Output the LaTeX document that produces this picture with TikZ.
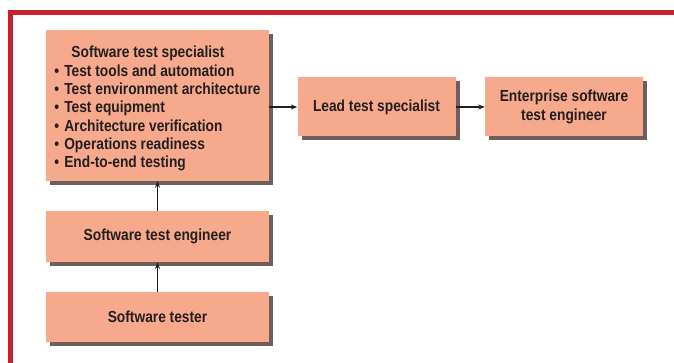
\documentclass[tikz,border=0pt]{standalone}
\usepackage{fontspec}
\setmainfont{Liberation Sans}[FakeStretch=0.86]
\usetikzlibrary{arrows.meta,shadows}
\definecolor{boxfill}{HTML}{F6A98C}
\definecolor{shadowc}{HTML}{6E5F5B}
\definecolor{redline}{HTML}{C8202F}
\definecolor{txt}{HTML}{231F20}
\newcommand{\bul}{\textbullet\hspace{5pt}}
\tikzset{
  box/.style={rectangle, fill=boxfill, inner sep=0pt, text=txt,
    font=\bfseries\fontsize{16}{18.3}\selectfont, align=center,
    drop shadow={shadow xshift=4pt, shadow yshift=-4pt, fill=shadowc, opacity=1}},
  conn/.style={-{Stealth[length=6.5pt,width=5pt]}, line width=1.2pt, draw=txt}
}
\begin{document}
\begin{tikzpicture}[x=1pt,y=-1pt]
\useasboundingbox (0,0) rectangle (674,363);
\draw[redline, line width=4.5pt] (674,12.5) -- (10.5,12.5) -- (10.5,363);
\node[box, minimum width=223pt, minimum height=151pt, align=left] (spec) at (157.5,105.5)
 {\rule{0pt}{18pt}\hspace*{17pt}Software test specialist\\
  \bul Test tools and automation\\
  \bul Test environment architecture\\
  \bul Test equipment\\
  \bul Architecture verification\\
  \bul Operations readiness\\
  \bul End-to-end testing};
\node[box, minimum width=158pt, minimum height=59pt] (lead) at (376.5,107) {Lead test specialist};
\node[box, minimum width=158pt, minimum height=59pt] (ent) at (564,107) {Enterprise software\\test engineer};
\node[box, minimum width=223pt, minimum height=51.5pt] (eng) at (157.5,236.5) {Software test engineer};
\node[box, minimum width=223pt, minimum height=50.5pt] (tester) at (157.5,317) {Software tester};
\draw[conn] (spec.east |- lead.west) -- (lead.west);
\draw[conn] (lead.east) -- (ent.west);
\draw[conn] (eng.north) -- (spec.south);
\draw[conn] (tester.north) -- (eng.south);
\end{tikzpicture}
\end{document}
